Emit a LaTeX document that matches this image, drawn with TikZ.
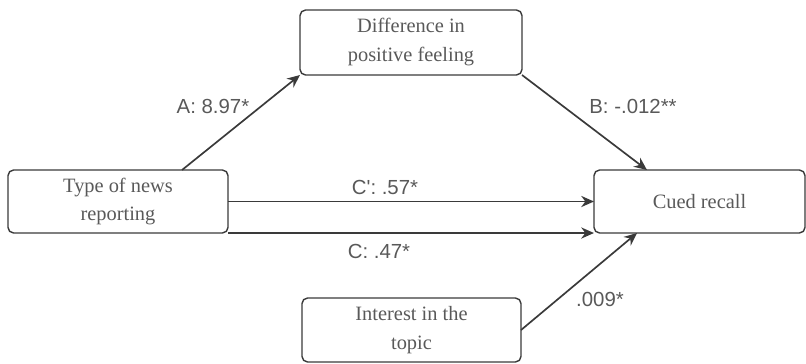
\documentclass[tikz,border=0pt]{standalone}
\usepackage{fontspec}
\setmainfont{Liberation Serif}
\newfontfamily\labelfont{Liberation Sans}
\usetikzlibrary{arrows.meta}
\definecolor{txtgray}{HTML}{595959}
\definecolor{linegray}{HTML}{3A3A3A}

\begin{document}
\begin{tikzpicture}[x=0.025cm,y=-0.025cm,
	box/.style={draw=linegray,line width=1pt,rounded corners=4pt,align=center,
		inner sep=0pt,outer sep=0pt,text=txtgray,
		font=\fontsize{14.5}{20.6}\selectfont},
	lbl/.style={inner sep=0pt,text=txtgray,font=\labelfont\fontsize{14.5}{17}\selectfont},
	arr/.style={draw=linegray,line width=1.2pt,-{Stealth[length=3.2mm,width=2.8mm]}}]
	\useasboundingbox (0,0) rectangle (806,363);
	% boxes
	\node[box,minimum width=5.55cm,minimum height=1.625cm] (diff) at (411,42.5) {Difference in\\positive feeling};
	\node[box,minimum width=5.5cm,minimum height=1.575cm] (type) at (118,201.5) {Type of news\\reporting};
	\node[box,minimum width=5.275cm,minimum height=1.575cm] (recall) at (699.5,201.5) {Cued recall};
	\node[box,minimum width=5.475cm,minimum height=1.6cm] (interest) at (411.5,330) {Interest in the\\topic};
	% paths
	\draw[arr] ([xshift=1.6cm]type.north) -- (diff.south west);
	\draw[arr] (diff.south east) -- ([xshift=-1.3125cm]recall.north);
	\draw[arr] (type.east) -- (recall.west);
	\draw[arr] (type.south east) -- (recall.south west);
	\draw[arr] (interest.east) -- ([xshift=-1.5625cm]recall.south);
	% coefficients
	\node[lbl] (labA) at (213,106) {A: 8.97*};
	\node[lbl] (labB) at (633,106) {B: -.012**};
	\node[lbl] (labCp) at (385,187) {C': .57*};
	\node[lbl] (labC) at (379,251) {C: .47*};
	\node[lbl] (labI) at (600,299) {.009*};
\end{tikzpicture}
\end{document}
